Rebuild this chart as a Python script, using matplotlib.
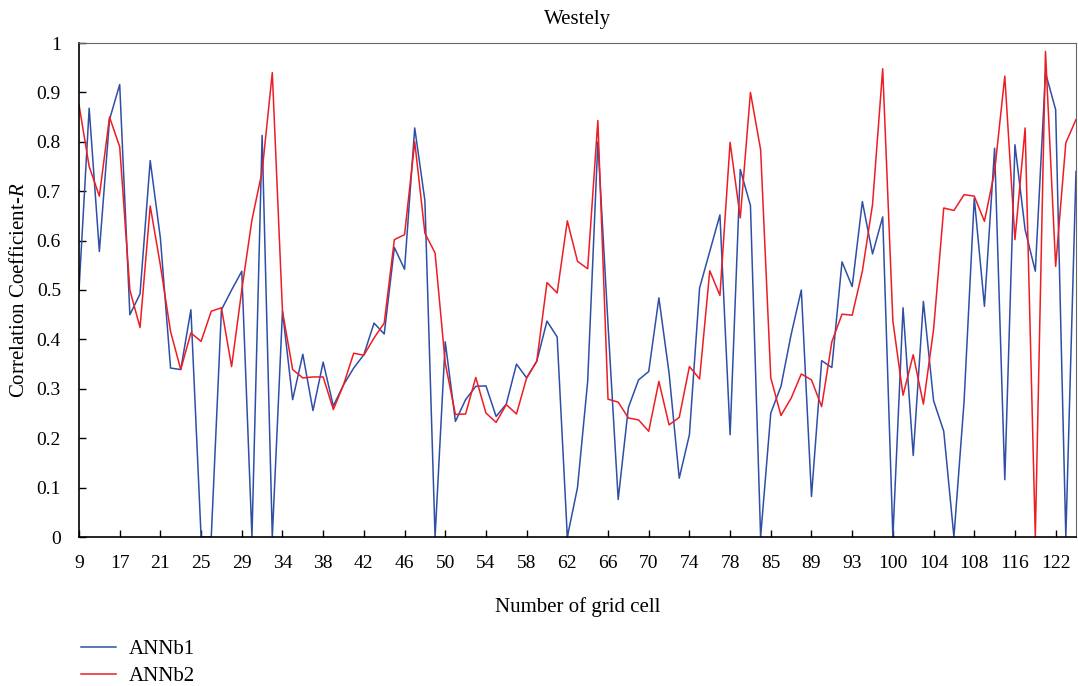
import matplotlib
matplotlib.use("Agg")
import matplotlib.pyplot as plt
from matplotlib.ticker import FuncFormatter

# grid cell labels shown every 4th point
cell_labels = ["9", "17", "21", "25", "29", "34", "38", "42", "46", "50", "54", "58",
               "62", "66", "70", "74", "78", "85", "89", "93", "100", "104", "108",
               "116", "122"]

annb1 = [0.50, 0.868, 0.578, 0.845, 0.916, 0.45, 0.492, 0.762, 0.605, 0.342,
         0.339, 0.46, 0.0, 0.0, 0.46, 0.50, 0.538, 0.0, 0.813, 0.0,
         0.457, 0.278, 0.37, 0.256, 0.354, 0.265, 0.308, 0.342, 0.369, 0.433,
         0.411, 0.586, 0.542, 0.828, 0.681, 0.0, 0.395, 0.234, 0.278, 0.305,
         0.306, 0.244, 0.269, 0.35, 0.322, 0.356, 0.437, 0.405, 0.0, 0.10,
         0.315, 0.80, 0.43, 0.076, 0.262, 0.318, 0.335, 0.484, 0.332, 0.119,
         0.207, 0.504, 0.578, 0.652, 0.207, 0.744, 0.671, 0.0, 0.251, 0.305,
         0.41, 0.50, 0.082, 0.357, 0.343, 0.557, 0.507, 0.679, 0.573, 0.648,
         0.0, 0.464, 0.165, 0.477, 0.276, 0.214, 0.0, 0.275, 0.686, 0.467,
         0.787, 0.116, 0.794, 0.622, 0.538, 0.94, 0.865, 0.0, 0.74]

annb2 = [0.875, 0.75, 0.69, 0.85, 0.79, 0.50, 0.424, 0.67, 0.55, 0.416,
         0.339, 0.413, 0.396, 0.457, 0.464, 0.345, 0.50, 0.642, 0.74, 0.94,
         0.457, 0.339, 0.322, 0.324, 0.324, 0.258, 0.308, 0.372, 0.368, 0.403,
         0.433, 0.602, 0.612, 0.80, 0.615, 0.575, 0.352, 0.248, 0.249, 0.323,
         0.251, 0.232, 0.268, 0.249, 0.322, 0.356, 0.515, 0.494, 0.64, 0.558,
         0.543, 0.843, 0.279, 0.273, 0.241, 0.237, 0.214, 0.315, 0.227, 0.242,
         0.345, 0.32, 0.539, 0.489, 0.799, 0.646, 0.90, 0.784, 0.322, 0.246,
         0.281, 0.33, 0.318, 0.264, 0.395, 0.451, 0.449, 0.538, 0.673, 0.948,
         0.437, 0.287, 0.369, 0.269, 0.42, 0.666, 0.661, 0.693, 0.69, 0.639,
         0.74, 0.933, 0.602, 0.828, 0.0, 0.983, 0.548, 0.798, 0.845]

plt.rcParams["font.family"] = "Liberation Serif"
plt.rcParams["mathtext.fontset"] = "custom"
plt.rcParams["mathtext.it"] = "Liberation Serif:italic"
plt.rcParams["mathtext.rm"] = "Liberation Serif"

fig = plt.figure(figsize=(10.78, 6.86), dpi=100)
ax = fig.add_axes([79 / 1078, 1 - 537 / 686, 997 / 1078, 494 / 686])

x = list(range(len(annb1)))
ax.plot(x, annb1, color="#2f4fa6", lw=1.1, label="ANNb1")
ax.plot(x, annb2, color="#ee1d23", lw=1.1, label="ANNb2")

ax.set_xlim(0, len(annb1) - 1)
ax.set_ylim(0, 1)
ax.set_xticks(range(0, 4 * len(cell_labels), 4))
ax.set_xticklabels(cell_labels)
ax.set_yticks([i / 10 for i in range(11)])
ax.yaxis.set_major_formatter(FuncFormatter(lambda v, p: "%g" % round(v, 1)))
ax.tick_params(direction="in", length=5, width=1, pad=13, labelsize=14)

for s in ("top", "right"):
    ax.spines[s].set_color("#666666")
for s in ("bottom", "left"):
    ax.spines[s].set_linewidth(1.2)

ax.set_title("Westely", fontsize=15, pad=14)
ax.set_xlabel("Number of grid cell", fontsize=15)
ax.xaxis.set_label_coords(0.5, -0.122)
ax.set_ylabel("Correlation Coefficient-$R$", fontsize=15)
ax.yaxis.set_label_coords(-0.05, 0.5)

fig.legend(loc="upper left", bbox_to_anchor=(62 / 1078, 1 - 621 / 686),
           frameon=False, fontsize=15, handlelength=1.7, handletextpad=0.6,
           labelspacing=0.35)

fig.savefig("out.png", dpi=100)
